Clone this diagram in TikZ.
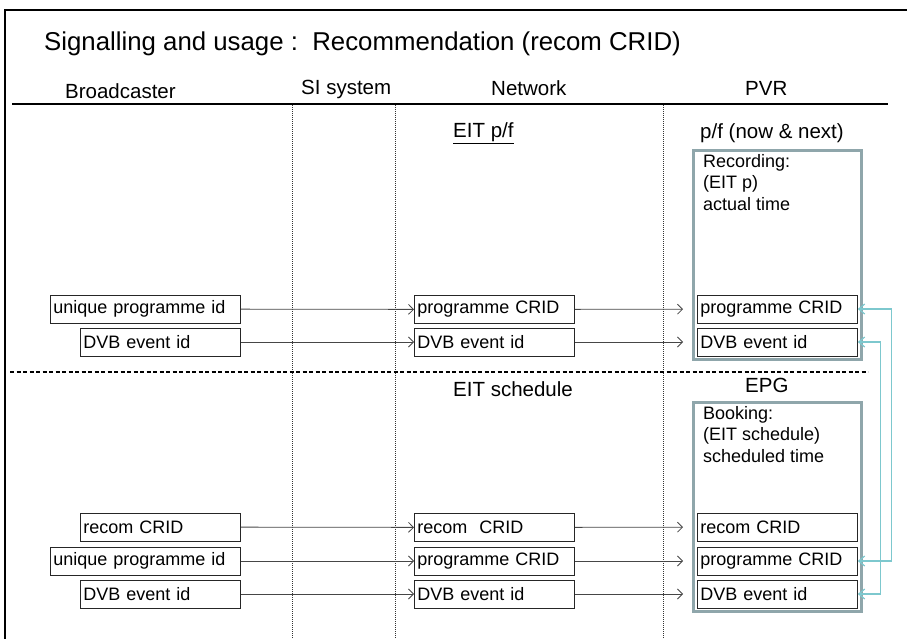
\documentclass[tikz,border=0pt]{standalone}
\usepackage{fontspec}
\setmainfont{Liberation Sans}
\usepackage{tikz}
\usetikzlibrary{
  arrows.meta,
  chains,
  fit,
  positioning,
  scopes
}
\definecolor{storeline}{RGB}{143,166,171}
\definecolor{linkline}{RGB}{125,200,206}
\definecolor{flowline}{RGB}{70,70,70}

\begin{document}
\begin{tikzpicture}[
      x=1pt,y=-1pt,
      field/.style={
         rectangle,
         draw=black!85,
         line width=0.8pt,
         minimum height=28pt,
         inner xsep=3pt,
         inner ysep=0pt,
         align=left,
         anchor=west,
         font=\fontsize{18}{20}\selectfont,
         text width=#1-6pt
      },
      field/.default=160pt,
      label/.style={
         anchor=west,
         inner sep=0pt,
         font=\fontsize{20.5}{24}\selectfont
      },
      store/.style={
         rectangle,
         draw=storeline,
         line width=3pt,
         inner sep=3.5pt
      },
      note/.style={
         anchor=north west,
         inner sep=0pt,
         align=left,
         font=\fontsize{18}{21.5}\selectfont
      },
      lane/.style={black!80,line width=0.6pt,dash pattern=on 1pt off 1pt},
      split/.style={black,line width=1.2pt,dash pattern=on 4pt off 2.5pt},
      tip/.style={->,draw=flowline,line width=0.8pt},
      gap/.style={shorten >=14pt},
      link/.style={{Straight Barb[length=6pt,width=10pt]}-{Straight Barb[length=6pt,width=10pt]},
         draw=linkline,line width=1.2pt},
      >={Straight Barb[length=5pt,width=10pt]}
    ]
    \useasboundingbox (0,0) rectangle (907,639);
    % frame and lanes
    \draw[line width=1.6pt] (5,639) -- (5,10) -- (907,10);
    \draw[line width=1.2pt] (12,104) -- (888,104);
    \foreach \x in {292,395,663}
       \draw[lane] (\x,105) -- (\x,639);
    \draw[split] (10,372) -- (868,372);

    \node (title) [label,font=\fontsize{25.8}{30}\selectfont] at (44,44)
       {Signalling and usage :\ \ Recommendation (recom CRID)};
    \node (hbc) [label] at (65,91) {Broadcaster};
    \node (hsi) [label] at (301,89) {SI system};
    \node (hnw) [label] at (491,88) {Network};
    \node (hpv) [label] at (745,88) {PVR};

    % now & next
    \node (pf) [label] at (453,133) {\underline{EIT p/f}};
    \node (now) [label] at (700,133) {p/f (now \& next)};
    \node (rectxt) [note] at (703,154) {Recording:\\(EIT p)\\actual time};

    \node (bc1) [field=190pt] at (50,309) {unique programme id};
    \node (bc2) [field] at (80,342) {DVB event id};
    \node (nw1) [field] at (414,309.5) {programme CRID};
    \node (nw2) [field] at (414,342) {DVB event id};
    \node (pv1) [field] at (697,309) {programme CRID};
    \node (pv2) [field] at (697,342) {DVB event id};
    \node (rec) [store,fit=(rectxt)(pv1)(pv2)] {};

    % schedule
    \node (sched) [label] at (453,389) {EIT schedule};
    \node (epg) [label] at (745,385) {EPG};
    \node (booktxt) [note] at (703,406) {Booking:\\(EIT schedule)\\scheduled time};

    \node (bc3) [field] at (80,527) {recom CRID};
    \node (bc4) [field=190pt] at (50,561) {unique programme id};
    \node (bc5) [field] at (80,594) {DVB event id};
    \node (nw3) [field] at (414,527.5) {recom\ \ CRID};
    \node (nw4) [field] at (414,561) {programme CRID};
    \node (nw5) [field] at (414,594) {DVB event id};
    \node (pv3) [field] at (697,527) {recom CRID};
    \node (pv4) [field] at (697,561) {programme CRID};
    \node (pv5) [field] at (697,594) {DVB event id};
    \node (book) [store,fit=(booktxt)(pv3)(pv5)] {};

  { [start chain]
       \chainin (bc1);
       \chainin (nw1)    [join=by tip];
       \chainin (pv1)    [join=by {tip,gap}];
  }
  { [start chain]
       \chainin (bc2);
       \chainin (nw2)    [join=by tip];
       \chainin (pv2)    [join=by {tip,gap}];
  }
  { [start chain]
       \chainin (bc3);
       \chainin (nw3)    [join=by tip];
       \chainin (pv3)    [join=by {tip,gap}];
  }
  { [start chain]
       \chainin (bc4);
       \chainin (nw4)    [join=by tip];
       \chainin (pv4)    [join=by {tip,gap}];
  }
  { [start chain]
       \chainin (bc5);
       \chainin (nw5)    [join=by tip];
       \chainin (pv5)    [join=by {tip,gap}];
  }
    % pvr cross links
    \draw[link] (pv1.east) -- ++(34,0) |- (pv4.east);
    \draw[link] (pv2.east) -- ++(23,0) |- (pv5.east);
\end{tikzpicture}
\end{document}
